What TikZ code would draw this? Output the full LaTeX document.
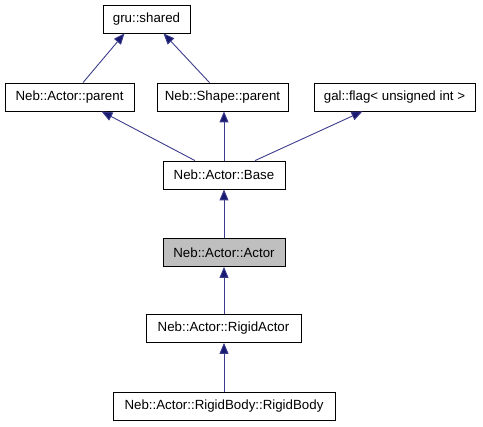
\documentclass[tikz,border=0pt]{standalone}
\usepackage{fontspec}
\setmainfont{Liberation Sans}
\usetikzlibrary{arrows.meta}
\begin{document}
\begin{tikzpicture}[x=1pt,y=-1pt,
  cls/.style={draw=black,line width=0.8pt,fill=white,inner sep=0pt,minimum height=28pt,
    font=\fontsize{13.3}{15}\selectfont},
  cur/.style={cls,fill=black!25},
  edge/.style={draw={rgb,255:red,60;green,60;blue,140},line width=0.9pt,
    -{Triangle[length=11pt,width=9pt,fill={rgb,255:red,25;green,25;blue,112}]}}]
\useasboundingbox (0,0) rectangle (483,427);
\node[cls,minimum width=87pt] (gru) at (146.5,19) {gru::shared};
\node[cls,minimum width=129pt] (ap) at (69.5,97) {Neb::Actor::parent};
\node[cls,minimum width=131pt] (sp) at (222.5,97) {Neb::Shape::parent};
\node[cls,minimum width=161pt] (flag) at (394.5,97) {gal::flag< unsigned int >};
\node[cls,minimum width=122pt] (base) at (224,175) {Neb::Actor::Base};
\node[cur,minimum width=122pt] (actor) at (224,252.5) {Neb::Actor::Actor};
\node[cls,minimum width=155pt] (ra) at (223.5,328.5) {Neb::Actor::RigidActor};
\node[cls,minimum width=222pt] (rb) at (224,406.5) {Neb::Actor::RigidBody::RigidBody};
\draw[edge] ([xshift=13.5pt]ap.north) -- ([xshift=-22pt]gru.south);
\draw[edge] ([xshift=-13pt]sp.north) -- ([xshift=17pt]gru.south);
\draw[edge] ([xshift=-29pt]base.north) -- ([xshift=32pt]ap.south);
\draw[edge] (base.north) -- (sp.south -| base.north);
\draw[edge] ([xshift=31pt]base.north) -- ([xshift=-32pt]flag.south);
\draw[edge] (actor.north) -- (base.south);
\draw[edge] (ra.north -| actor.south) -- (actor.south);
\draw[edge] (rb.north -| actor.south) -- (ra.south -| actor.south);
\end{tikzpicture}
\end{document}
